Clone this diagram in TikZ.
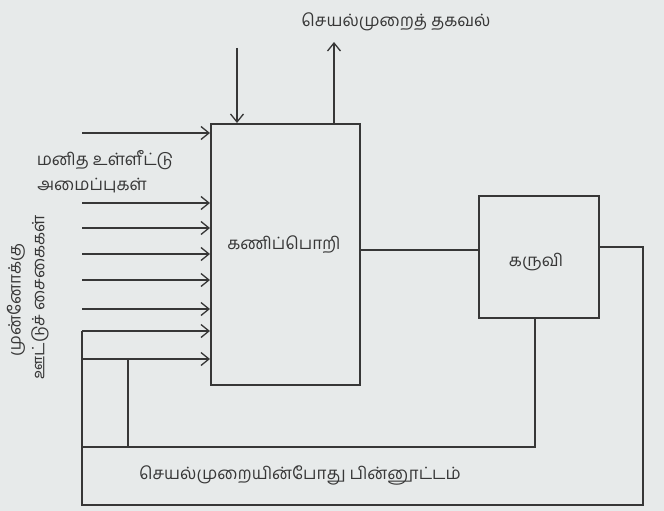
\documentclass[tikz,border=0pt]{standalone}
\usepackage{fontspec}
\newfontfamily\tamil[Script=Tamil]{Hind Madurai}
\usetikzlibrary{arrows.meta}
\definecolor{paper}{RGB}{231,234,234}
\definecolor{ink}{RGB}{55,55,55}

\begin{document}
\begin{tikzpicture}[x=1pt,y=-1pt,line width=1.4pt,
	box/.style={draw=ink,line width=1.6pt,anchor=north west,inner sep=0pt},
	lbl/.style={font=\tamil\fontsize{17}{20}\selectfont,text=ink,inner sep=1pt},
	tip/.style={-{Straight Barb[length=8pt,width=13pt,line width=1.3pt]}}]
	\fill[paper] (0,0) rectangle (664,511);
	\useasboundingbox (0,0) rectangle (664,511);
	% boxes
	\node[box,minimum width=149pt,minimum height=261pt] (comp) at (210,123) {};
	\node[box,minimum width=120pt,minimum height=122pt] (dev) at (478,195) {};
	\node[lbl] (complbl) at (284,245) {கணிப்பொறி};
	\node[lbl] (devlbl) at (536,262) {கருவி};
	% labels
	\node[lbl] (info) at (396,22) {செயல்முறைத் தகவல்};
	\node[lbl] (human1) at (105,160) {மனித உள்ளீட்டு};
	\node[lbl] (human2) at (92,186) {அமைப்புகள்};
	\node[lbl,rotate=90] (fwd1) at (16,300) {முன்னோக்கு};
	\node[lbl,rotate=90] (fwd2) at (40,297) {ஊட்டுச் சைகைகள்};
	\node[lbl] (fb) at (300,475) {செயல்முறையின்போது பின்னூட்டம்};
	% top
	\coordinate (topin) at (237,48);
	\coordinate (topout) at (334,42);
	\draw[ink,tip] (topin) -- (comp.north -| topin);
	\draw[ink,tip] (comp.north -| topout) -- (topout);
	% inputs on the left
	\foreach \y in {133,203,228,254,280,309}
		\draw[ink,tip] (82,\y) -- (comp.west |- 0,\y);
	\coordinate (fwdA) at (82,331);
	\coordinate (fwdB) at (82,359);
	\draw[ink,tip] (fwdA) -- (comp.west |- fwdA);
	\draw[ink,tip] (fwdB) -- (comp.west |- fwdB);
	% computer to device
	\draw[ink] (comp.east |- 0,250) -- (dev.west |- 0,250);
	% inner feedback loop
	\coordinate (inR) at (535,447);
	\coordinate (inL) at (82,447);
	\draw[ink] (dev.south -| inR) -- (inR) -- (inL);
	\draw[ink] (128,447) -- (128,359);
	% outer feedback loop
	\coordinate (outR) at (643,505);
	\coordinate (outL) at (82,505);
	\draw[ink] (dev.east |- 0,247) -| (outR) -- (outL) -- (fwdA);
\end{tikzpicture}
\end{document}
